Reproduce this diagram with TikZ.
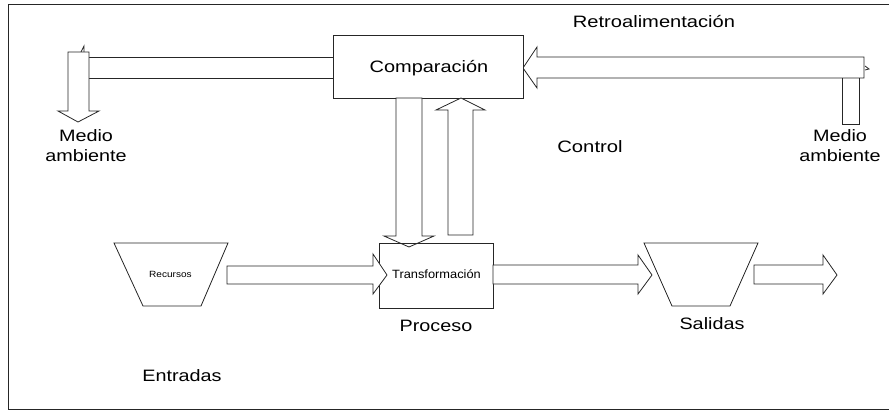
\documentclass[tikz,border=0pt]{standalone}
\usepackage{fontspec}
\usepackage{graphicx}
\setmainfont{Liberation Sans}
\newcommand{\wtext}[2]{\scalebox{#1}[1]{#2}}
\begin{document}
\begin{tikzpicture}[x=1pt,y=-1pt,
  line/.style={draw=black!85,line width=0.8pt,line join=miter},
  blockarrow/.style={line,fill=white},
  lbl/.style={font=\fontsize{16.5}{20}\selectfont,align=center,inner sep=0pt},
  boxnode/.style={line,fill=white,inner sep=0pt,anchor=north west}]
\useasboundingbox (0,0) rectangle (889,410);
% frame
\draw[line] (889,4) -- (8,4) -- (8,409) -- (889,409);

% top horizontal bar (left side)
\draw[line] (89,57) -- (333,57);
\draw[line] (89,78) -- (333,78);
\draw[line] (81,52) -- (84,46) -- (84,52);
% left down arrow
\draw[blockarrow] (68,52) -- (89,52) -- (89,111) -- (99,111) -- (78,122) -- (58,111) -- (68,111) -- cycle;

% right feedback arrow
\draw[blockarrow] (523,68) -- (537,47) -- (537,57) -- (864,57) -- (864,78) -- (537,78) -- (537,88) -- cycle;
\draw[line] (865,66) -- (869,69) -- (865,70);
\draw[line] (842,78) -- (842,124) -- (859,124) -- (859,78);

% comparacion box
\node[boxnode,minimum width=190pt,minimum height=63pt] (comp) at (333,35) {};
\node[lbl] (comptxt) at (429,68) {\wtext{1.21}{Comparación}};

% down arrow from comparacion
\draw[blockarrow] (396,98) -- (422,98) -- (422,236) -- (434,236) -- (409,247) -- (384,236) -- (396,236) -- cycle;
% up arrow to comparacion
\draw[blockarrow] (448,235) -- (448,110) -- (436,110) -- (461,98) -- (485,110) -- (473,110) -- (473,235) -- cycle;

% transformacion box
\node[boxnode,minimum width=114pt,minimum height=65pt,fill=none] (trans) at (379,243) {};
\node[inner sep=0pt,font=\fontsize{12}{14}\selectfont] (transtxt) at (436.5,274) {\wtext{1.07}{Transformación}};

% recursos trapezoid
\draw[line] (114,243) -- (228,243) -- (201,306) -- (143,306) -- cycle;
\node[inner sep=0pt,font=\fontsize{9}{11}\selectfont] (rec) at (170.5,274) {\wtext{1.12}{Recursos}};

% arrow recursos -> transformacion
\draw[blockarrow] (227,266) -- (373,266) -- (373,254) -- (387,275) -- (373,294) -- (373,284) -- (227,284) -- cycle;

% arrow transformacion -> salidas
\draw[blockarrow] (493,265) -- (638,265) -- (638,255) -- (652,275) -- (638,294) -- (638,284) -- (493,284) -- cycle;

% salidas trapezoid
\draw[line] (644,243) -- (758,243) -- (730,306) -- (672,306) -- cycle;

% output arrow
\draw[blockarrow] (754,265) -- (823,265) -- (823,255) -- (837,275) -- (823,294) -- (823,284) -- (754,284) -- cycle;

% labels
\node[lbl] (retro) at (654,22) {\wtext{1.22}{Retroalimentación}};
\node[lbl] (control) at (590,147) {\wtext{1.23}{Control}};
\node[lbl] (medioL) at (86,147) {\wtext{1.2}{\begin{tabular}{@{}c@{}}Medio\\ambiente\end{tabular}}};
\node[lbl] (medioR) at (840,147) {\wtext{1.2}{\begin{tabular}{@{}c@{}}Medio\\ambiente\end{tabular}}};
\node[lbl] (proceso) at (436,326) {\wtext{1.2}{Proceso}};
\node[lbl] (salidas) at (712,324) {\wtext{1.2}{Salidas}};
\node[lbl] (entradas) at (182,376) {\wtext{1.2}{Entradas}};
\end{tikzpicture}
\end{document}
